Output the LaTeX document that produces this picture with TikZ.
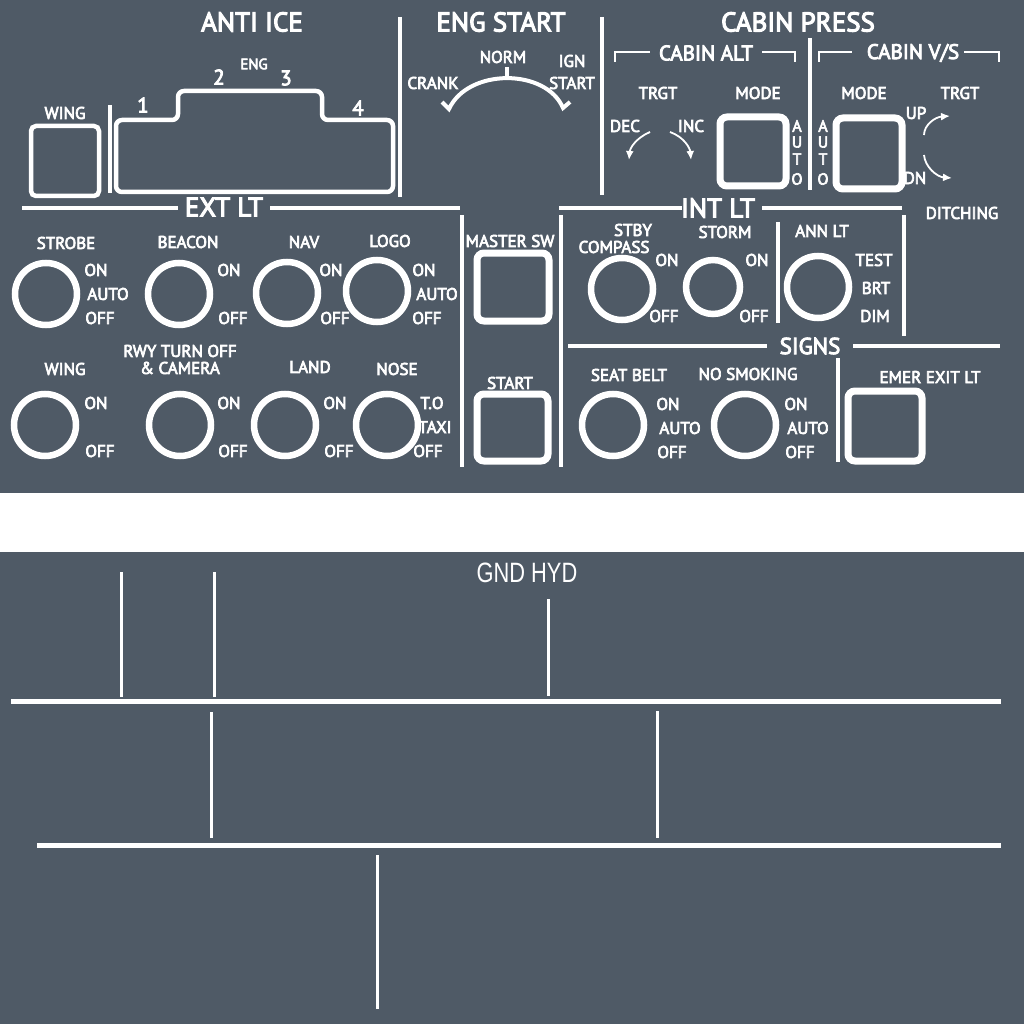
\documentclass[tikz,border=0pt]{standalone}
\usepackage{fontspec}
\setmainfont{PT Sans}[FakeBold=4]
\newfontfamily\gndfont[FakeStretch=0.78]{Liberation Sans}
\usepackage{tikz}
\usetikzlibrary{arrows.meta}
\definecolor{panelgray}{RGB}{79,90,102}

\begin{document}
\begin{tikzpicture}[x=1pt,y=-1pt,
  lbl/.style={white,inner sep=0pt,font=\fontsize{17}{17}\selectfont},
  title/.style={white,inner sep=0pt,font=\fontsize{27}{27}\selectfont},
  sub/.style={white,inner sep=0pt,font=\fontsize{21}{21}\selectfont},
  vlet/.style={white,inner sep=0pt,font=\fontsize{16}{16}\selectfont},
  rule/.style={white,line width=4pt},
  knob/.style={white,line width=6.5pt},
  btn/.style={white,line width=7pt,rounded corners=7pt},
  turn/.style={white,line width=1.8pt,-{Latex[length=9pt,width=8pt]}}]
\useasboundingbox (0,0) rectangle (1024,1024);
\fill[white] (0,0) rectangle (1024,1024);
\fill[panelgray] (0,0) rectangle (1024,493);
\fill[panelgray] (0,552) rectangle (1024,1024);

\node (antiice) at (252,22)[title] {ANTI ICE};
\node (wingai) at (65,113)[lbl] {WING};
\draw[white,line width=4.5pt,rounded corners=5pt] (31,126) rectangle (99,196);
\draw[white,line width=3.5pt] (110,105) -- (110,193);
\draw[white,line width=4.5pt,rounded corners=6pt] (116,192) -- (116,120) -- (178,120) -- (178,91) -- (322,91) -- (322,120) -- (393,120) -- (393,192) -- cycle;
\node (engone) at (143,105)[sub] {1};
\node (engtwo) at (219,77)[sub] {2};
\node (engthree) at (286,78)[sub] {3};
\node (engfour) at (358,108)[sub] {4};
\node (eng) at (254,64)[white,inner sep=0pt,font=\fontsize{15}{15}\selectfont] {ENG};
\draw[rule] (400,17) -- (400,197);

\node (engstart) at (501,22)[title] {ENG START};
\draw[white,line width=4pt] (442,102) -- (449,109) .. controls (468,68) and (546,68) .. (563,108) -- (570,102);
\draw[white,line width=4pt] (507,67) -- (507,78);
\node (norm) at (503,57)[lbl] {NORM};
\node (crank) at (433,83)[lbl] {CRANK};
\node (ign) at (572,61)[lbl] {IGN};
\node (ignstart) at (572,83)[lbl] {START};
\draw[rule] (602,17) -- (602,195);

\node (cabinpress) at (798,22)[title] {CABIN PRESS};
\node (cabinalt) at (706,53)[sub] {CABIN ALT};
\draw[white,line width=2.5pt] (615,62) -- (615,52) -- (650,52);
\draw[white,line width=2.5pt] (762,52) -- (795,52) -- (795,62);
\node (cabinvs) at (913,53)[sub] {CABIN V/S};
\draw[white,line width=2.5pt] (819,62) -- (819,52) -- (852,52);
\draw[white,line width=2.5pt] (964,52) -- (999,52) -- (999,62);
\draw[rule] (810,38) -- (810,190);
\node (alttrgt) at (658,93)[lbl] {TRGT};
\node (altmode) at (758,93)[lbl] {MODE};
\node (dec) at (625,126)[lbl] {DEC};
\node (inc) at (691,126)[lbl] {INC};
\draw[turn] (650,132) .. controls (636,138) and (630,148) .. (629,160);
\draw[turn] (670,132) .. controls (684,137) and (690,148) .. (691,160);
\draw[btn] (720,117) rectangle (786,186);
\node (alta) at (797,126)[vlet] {A};
\node (altu) at (797,142)[vlet] {U};
\node (altt) at (797,159)[vlet] {T};
\node (alto) at (797,179)[vlet] {O};
\node (vsa) at (823,126)[vlet] {A};
\node (vsu) at (823,142)[vlet] {U};
\node (vst) at (823,159)[vlet] {T};
\node (vso) at (823,179)[vlet] {O};
\draw[btn] (836,118) rectangle (902,189);
\node (vsmode) at (864,93)[lbl] {MODE};
\node (vstrgt) at (960,93)[lbl] {TRGT};
\node (up) at (916,113)[lbl] {UP};
\node (dn) at (915,178)[lbl] {DN};
\draw[turn] (924,135) .. controls (924,125) and (935,117) .. (950,116);
\draw[turn] (924,155) .. controls (925,167) and (937,177) .. (952,178);
\node (ditching) at (962,213)[lbl] {DITCHING};

\draw[rule] (22,208) -- (178,208);
\node (extlt) at (224,207)[title] {EXT LT};
\draw[rule] (270,208) -- (460,208);
\draw[rule] (462,215) -- (462,467);
\draw[rule] (561,215) -- (561,467);

\node (strobe) at (66,243)[lbl] {STROBE};
\node (strobeon) at (96,270)[lbl] {ON};
\node (strobeauto) at (108,294)[lbl] {AUTO};
\node (strobeoff) at (100,318)[lbl] {OFF};
\node (beacon) at (188,242)[lbl] {BEACON};
\node (beaconon) at (229,270)[lbl] {ON};
\node (beaconoff) at (233,318)[lbl] {OFF};
\node (nav) at (304,242)[lbl] {NAV};
\node (navon) at (331,270)[lbl] {ON};
\node (navoff) at (335,318)[lbl] {OFF};
\node (logo) at (390,241)[lbl] {LOGO};
\node (logoon) at (424,270)[lbl] {ON};
\node (logoauto) at (437,294)[lbl] {AUTO};
\node (logooff) at (427,318)[lbl] {OFF};
\draw[knob] (46,294) circle (31);
\draw[knob] (179,294) circle (31);
\draw[knob] (287,293) circle (31);
\draw[knob] (377,291) circle (31);

\node (wing) at (65,369)[lbl] {WING};
\node (wingon) at (96,403)[lbl] {ON};
\node (wingoff) at (100,451)[lbl] {OFF};
\node (rwy) at (180,351)[lbl] {RWY TURN OFF};
\node (camera) at (180,368)[lbl] {\& CAMERA};
\node (rwyon) at (229,403)[lbl] {ON};
\node (rwyoff) at (233,451)[lbl] {OFF};
\node (land) at (310,367)[lbl] {LAND};
\node (landon) at (335,403)[lbl] {ON};
\node (landoff) at (339,451)[lbl] {OFF};
\node (nose) at (397,369)[lbl] {NOSE};
\node (noseto) at (432,403)[lbl] {T.O};
\node (nosetaxi) at (435,427)[lbl] {TAXI};
\node (noseoff) at (428,451)[lbl] {OFF};
\draw[knob] (45,425) circle (31);
\draw[knob] (180,425) circle (31);
\draw[knob] (285,425) circle (31);
\draw[knob] (387,425) circle (31);

\node (mastersw) at (510,241)[lbl] {MASTER SW};
\draw[btn] (477,253) rectangle (549,321);
\node (start) at (510,383)[lbl] {START};
\draw[btn] (477,394) rectangle (548,461);

\draw[rule] (559,208) -- (682,208);
\node (intlt) at (718,208)[title] {INT LT};
\draw[rule] (762,208) -- (902,208);
\node (stby) at (633,230)[lbl] {STBY};
\node (compass) at (614,247)[lbl] {COMPASS};
\node (compasson) at (667,260)[lbl] {ON};
\node (compassoff) at (664,316)[lbl] {OFF};
\node (storm) at (725,232)[lbl] {STORM};
\node (stormon) at (757,260)[lbl] {ON};
\node (stormoff) at (754,316)[lbl] {OFF};
\draw[knob] (622,289) circle (31);
\draw[knob] (713,287) circle (27);
\draw[rule] (778,222) -- (778,323);
\node (annlt) at (822,231)[lbl] {ANN LT};
\node (test) at (874,260)[lbl] {TEST};
\node (brt) at (876,288)[lbl] {BRT};
\node (dim) at (875,316)[lbl] {DIM};
\draw[knob] (818,287) circle (31);
\draw[rule] (904,215) -- (904,336);

\draw[rule] (568,346) -- (767,346);
\node (signs) at (810,346)[white,inner sep=0pt,font=\fontsize{23}{23}\selectfont] {SIGNS};
\draw[rule] (853,346) -- (1000,346);
\node (seatbelt) at (629,375)[lbl] {SEAT BELT};
\node (seatbelton) at (668,404)[lbl] {ON};
\node (seatbeltauto) at (680,428)[lbl] {AUTO};
\node (seatbeltoff) at (672,452)[lbl] {OFF};
\node (nosmoking) at (748,374)[lbl] {NO SMOKING};
\node (nosmokingon) at (796,404)[lbl] {ON};
\node (nosmokingauto) at (808,428)[lbl] {AUTO};
\node (nosmokingoff) at (800,452)[lbl] {OFF};
\draw[knob] (613,425) circle (31);
\draw[knob] (745,425) circle (31);
\draw[rule] (838,358) -- (838,462);
\node (emerexit) at (930,377)[lbl] {EMER EXIT LT};
\draw[btn] (848,391) rectangle (922,461);

\node (gndhyd) at (527,573)[white,inner sep=0pt,font=\gndfont\fontsize{28}{28}\selectfont] {GND HYD};
\draw[white,line width=3pt] (121,572) -- (121,697);
\draw[white,line width=3pt] (214,572) -- (214,697);
\draw[white,line width=3pt] (548,599) -- (548,696);
\draw[white,line width=5pt] (11,701) -- (1001,701);
\draw[white,line width=3pt] (211,712) -- (211,838);
\draw[white,line width=3pt] (657,711) -- (657,838);
\draw[white,line width=5pt] (37,845) -- (1001,845);
\draw[white,line width=3pt] (377,855) -- (377,1009);
\end{tikzpicture}
\end{document}
